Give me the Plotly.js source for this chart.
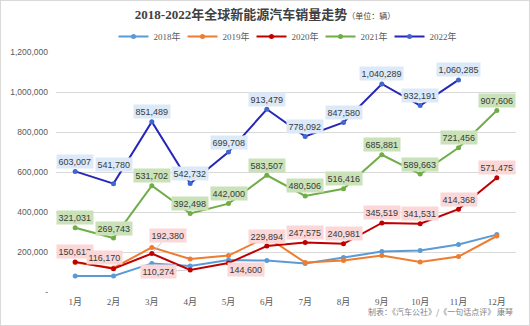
<!DOCTYPE html>
<html><head><meta charset="utf-8">
<script src="https://cdn.plot.ly/plotly-3.0.1.min.js"></script>
<style>
html,body{margin:0;padding:0;background:#fff;}
#wrap{position:relative;width:530px;height:326px;}
#chart{position:absolute;left:0;top:0;width:530px;height:326px;}
#frame{position:absolute;left:0;top:0;width:530px;height:326px;box-sizing:border-box;border:1px solid #d9d9d9;pointer-events:none;}
</style>
</head><body>
<div id="wrap"><div id="chart"></div><div id="frame"></div></div>
<script>
const months = ['1月','2月','3月','4月','5月','6月','7月','8月','9月','10月','11月','12月'];
const seriesNames = ['2018年','2019年','2020年','2021年','2022年'];
const s2018 = [80000, 80000, 143000, 130000, 160000, 157000, 143000, 172000, 202000, 208000, 238000, 287000];
const s2019 = [148000, 120000, 223000, 165000, 182000, 275000, 147000, 157000, 182000, 150000, 177000, 280000];
const s2020 = [150613, 116170, 192380, 110274, 144600, 229894, 247575, 240981, 345519, 341531, 414368, 571475];
const s2021 = [321031, 269743, 531702, 392498, 442000, 583507, 480506, 516416, 685881, 589663, 721456, 907606];
const s2022 = [603007, 541780, 851489, 542732, 699708, 913479, 778092, 847580, 1040289, 932191, 1060285];
const yTickVals = [0, 200000, 400000, 600000, 800000, 1000000, 1200000];
const yTickText = ['-', '200,000', '400,000', '600,000', '800,000', '1,000,000', '1,200,000'];

const lineColors = ['#5b9bd5', '#ed7d31', '#c00000', '#70ad47', '#2626b8'];
const markerColors = ['#5b9bd5', '#ed7d31', '#c00000', '#70ad47', '#3f66cc'];
const allSeries = [s2018, s2019, s2020, s2021, s2022];

const traces = allSeries.map((s, i) => ({
  type: 'scatter', mode: 'lines+markers', name: seriesNames[i],
  x: months.slice(0, s.length), y: s,
  line: {color: lineColors[i], width: 2},
  marker: {color: markerColors[i], size: 5},
  hoverinfo: 'x+y'
}));

const fmt = v => v.toLocaleString('en-US');
const labelFont = {family: '"Liberation Sans Narrow", "Liberation Sans", Arial, sans-serif', size: 9, color: '#3a3a3a'};
const labelBg = {2: '#fbd7d7', 3: '#c9e2b8', 4: '#dbe9f8'};
// special offsets for some labels
const special = {
  '4-1': {dx: 0, dy: 19},
  '2-1': {dx: -9, dy: 11},
  '2-2': {dx: 16, dy: 18, arrow: true},
  '2-3': {dx: -32, dy: -2, arrow: true},
  '2-4': {dx: 17, dy: -6}
};
const annotations = [];
[2, 3, 4].forEach(si => {
  allSeries[si].forEach((v, mi) => {
    const sp = special[si + '-' + mi] || {dx: 0, dy: 10};
    const a = {
      x: mi, y: v, xref: 'x', yref: 'y', text: fmt(v),
      font: labelFont, bgcolor: labelBg[si], borderpad: 1.5
    };
    if (sp.arrow) {
      Object.assign(a, {showarrow: true, ax: sp.dx, ay: -sp.dy, arrowhead: 0, arrowwidth: 0.8, arrowcolor: '#bfbfbf', standoff: 3});
    } else {
      Object.assign(a, {showarrow: false, xshift: sp.dx, yshift: sp.dy});
    }
    annotations.push(a);
  });
});
annotations.push({
  xref: 'paper', yref: 'paper', x: 0.998, y: -0.083, xanchor: 'right', yanchor: 'middle',
  text: '制表：《汽车公社》/《一句话点评》 康琴', showarrow: false,
  font: {family: '"Noto Sans CJK SC", sans-serif', size: 8, color: '#7f7f7f'}
});

const layout = {
  width: 530, height: 326,
  margin: {l: 56, r: 14, t: 52, b: 34},
  paper_bgcolor: '#ffffff', plot_bgcolor: '#ffffff',
  title: {
    text: '<b>2018-2022年全球新能源汽车销量走势</b><span style="font-size:8px">（单位：辆）</span>',
    x: 0.5, xanchor: 'center', y: 0.955, yanchor: 'middle',
    font: {family: '"Liberation Serif", "Noto Sans CJK SC", serif', size: 13, color: '#404040'}
  },
  showlegend: true,
  legend: {
    orientation: 'h', x: 0.5, xanchor: 'center', y: 1.065, yanchor: 'middle',
    font: {family: '"Liberation Serif", "Noto Sans CJK SC", serif', size: 9, color: '#595959'},
    entrywidth: 24, entrywidthmode: 'pixels', itemwidth: 30
  },
  xaxis: {
    type: 'category', range: [-0.5, 11.5], showgrid: false, zeroline: false,
    showline: false, ticks: '', ticklabelstandoff: 3,
    tickfont: {family: '"Liberation Serif", "Noto Sans CJK SC", serif', size: 9, color: '#595959'}
  },
  yaxis: {
    range: [0, 1200000], tickvals: yTickVals, ticktext: yTickText,
    showgrid: true, gridcolor: '#d9d9d9', gridwidth: 1, zeroline: false, showline: false,
    ticks: '', ticklabelstandoff: 7,
    tickfont: {family: '"Liberation Sans Narrow", "Liberation Sans", Arial, sans-serif', size: 8.5, color: '#595959'}
  },
  annotations: annotations
};

Plotly.newPlot('chart', traces, layout, {displayModeBar: false, staticPlot: true});
</script>
</body></html>
